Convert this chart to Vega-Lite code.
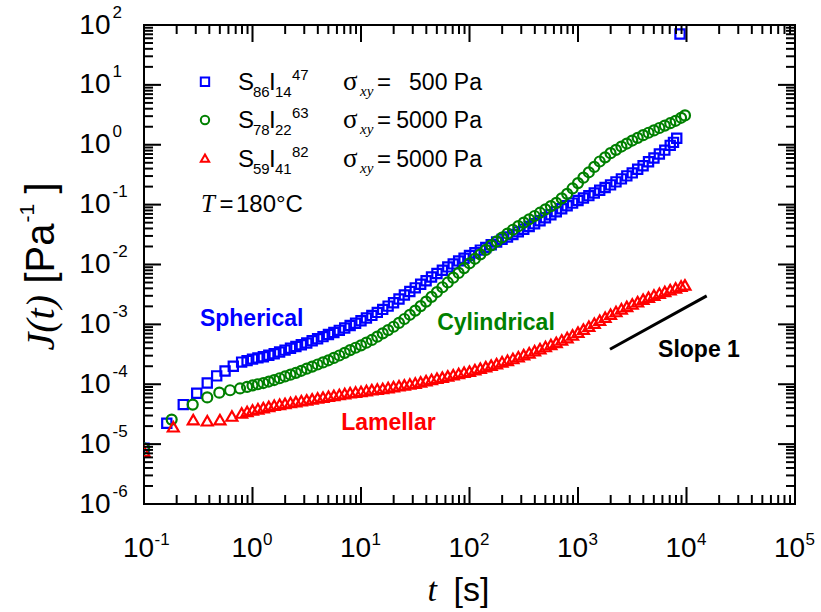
{
  "$schema": "https://vega.github.io/schema/vega-lite/v6.json",
  "width": 651,
  "height": 479,
  "autosize": {"type": "none"},
  "padding": {"left": 144, "top": 25, "right": 26, "bottom": 108},
  "background": "white",
  "config": {
    "view": {"stroke": "black", "strokeWidth": 2},
    "axis": {"domain": false, "grid": false, "ticks": false, "labelColor": "black", "titleColor": "black", "labelOverlap": false, "labelFlush": false, "labelBound": false, "labelFont": "Liberation Sans", "titleFont": "Liberation Sans", "titleFontWeight": "normal"}
  },
  "resolve": {"axis": {"x": "independent", "y": "independent"}},
  "datasets": {
    "curves": [
      {"s":"S86I14","t":0.1,"J":8.51e-6},{"s":"S86I14","t":0.1622,"J":2.239e-5},{"s":"S86I14","t":0.2301,"J":4.571e-5},{"s":"S86I14","t":0.3062,"J":7.079e-5},{"s":"S86I14","t":0.3828,"J":1.047e-4},{"s":"S86I14","t":0.4677,"J":1.38e-4},{"s":"S86I14","t":0.5585,"J":1.66e-4},{"s":"S86I14","t":0.6653,"J":1.995e-4},{"s":"S86I14","t":0.7943,"J":2.344e-4},{"s":"S86I14","t":0.8913,"J":2.48e-4},
      {"s":"S86I14","t":1,"J":2.63e-4},{"s":"S86I14","t":1.122,"J":2.754e-4},{"s":"S86I14","t":1.259,"J":2.884e-4},{"s":"S86I14","t":1.413,"J":3.05e-4},{"s":"S86I14","t":1.585,"J":3.236e-4},{"s":"S86I14","t":1.778,"J":3.467e-4},{"s":"S86I14","t":1.995,"J":3.715e-4},{"s":"S86I14","t":2.239,"J":3.981e-4},{"s":"S86I14","t":2.512,"J":4.266e-4},{"s":"S86I14","t":2.818,"J":4.571e-4},
      {"s":"S86I14","t":3.162,"J":4.898e-4},{"s":"S86I14","t":3.548,"J":5.31e-4},{"s":"S86I14","t":3.981,"J":5.754e-4},{"s":"S86I14","t":4.467,"J":6.24e-4},{"s":"S86I14","t":5.012,"J":6.761e-4},{"s":"S86I14","t":5.623,"J":7.33e-4},{"s":"S86I14","t":6.31,"J":7.943e-4},{"s":"S86I14","t":7.079,"J":8.71e-4},{"s":"S86I14","t":7.943,"J":9.55e-4},{"s":"S86I14","t":8.913,"J":1.047e-3},
      {"s":"S86I14","t":10,"J":1.148e-3},{"s":"S86I14","t":11.22,"J":1.274e-3},{"s":"S86I14","t":12.59,"J":1.413e-3},{"s":"S86I14","t":14.13,"J":1.585e-3},{"s":"S86I14","t":15.85,"J":1.778e-3},{"s":"S86I14","t":17.78,"J":2.018e-3},{"s":"S86I14","t":19.95,"J":2.291e-3},{"s":"S86I14","t":22.39,"J":2.66e-3},{"s":"S86I14","t":25.12,"J":3.09e-3},{"s":"S86I14","t":28.18,"J":3.548e-3},
      {"s":"S86I14","t":31.62,"J":4.074e-3},{"s":"S86I14","t":35.48,"J":4.677e-3},{"s":"S86I14","t":39.81,"J":5.37e-3},{"s":"S86I14","t":44.67,"J":6.166e-3},{"s":"S86I14","t":50.12,"J":7.079e-3},{"s":"S86I14","t":56.23,"J":8.04e-3},{"s":"S86I14","t":63.1,"J":9.12e-3},{"s":"S86I14","t":70.79,"J":1.023e-2},{"s":"S86I14","t":79.43,"J":1.148e-2},{"s":"S86I14","t":89.13,"J":1.274e-2},
      {"s":"S86I14","t":100,"J":1.413e-2},{"s":"S86I14","t":112.2,"J":1.567e-2},{"s":"S86I14","t":125.9,"J":1.738e-2},{"s":"S86I14","t":141.3,"J":1.928e-2},{"s":"S86I14","t":158.5,"J":2.138e-2},{"s":"S86I14","t":177.8,"J":2.371e-2},{"s":"S86I14","t":199.5,"J":2.63e-2},{"s":"S86I14","t":223.9,"J":2.884e-2},{"s":"S86I14","t":251.2,"J":3.162e-2},{"s":"S86I14","t":281.8,"J":3.51e-2},
      {"s":"S86I14","t":316.2,"J":3.89e-2},{"s":"S86I14","t":354.8,"J":4.32e-2},{"s":"S86I14","t":398.1,"J":4.786e-2},{"s":"S86I14","t":446.7,"J":5.37e-2},{"s":"S86I14","t":501.2,"J":6.026e-2},{"s":"S86I14","t":562.3,"J":6.761e-2},{"s":"S86I14","t":631,"J":7.586e-2},{"s":"S86I14","t":707.9,"J":8.511e-2},{"s":"S86I14","t":794.3,"J":9.55e-2},{"s":"S86I14","t":891.3,"J":0.1059},
      {"s":"S86I14","t":1000,"J":0.1175},{"s":"S86I14","t":1122,"J":0.1288},{"s":"S86I14","t":1259,"J":0.1413},{"s":"S86I14","t":1413,"J":0.1567},{"s":"S86I14","t":1585,"J":0.1738},{"s":"S86I14","t":1778,"J":0.1928},{"s":"S86I14","t":1995,"J":0.2138},{"s":"S86I14","t":2239,"J":0.2399},{"s":"S86I14","t":2512,"J":0.2692},{"s":"S86I14","t":2818,"J":0.302},
      {"s":"S86I14","t":3162,"J":0.3388},{"s":"S86I14","t":3548,"J":0.389},{"s":"S86I14","t":3981,"J":0.4467},{"s":"S86I14","t":4467,"J":0.519},{"s":"S86I14","t":5012,"J":0.6026},{"s":"S86I14","t":5623,"J":0.7},{"s":"S86I14","t":6310,"J":0.8128},{"s":"S86I14","t":7079,"J":0.9772},{"s":"S86I14","t":7586,"J":1.096},{"s":"S86I14","t":8128,"J":1.288},{"s":"S86I14","t":8710,"J":70.79},

      {"s":"S78I22","t":0.1,"J":8.51e-6},{"s":"S78I22","t":0.1799,"J":2.57e-5},{"s":"S78I22","t":0.2812,"J":4.571e-5},{"s":"S78I22","t":0.3828,"J":6.026e-5},{"s":"S78I22","t":0.4943,"J":7.244e-5},{"s":"S78I22","t":0.6209,"J":7.943e-5},{"s":"S78I22","t":0.7674,"J":8.511e-5},{"s":"S78I22","t":0.8913,"J":9.02e-5},
      {"s":"S78I22","t":1,"J":9.55e-5},{"s":"S78I22","t":1.122,"J":1.0e-4},{"s":"S78I22","t":1.259,"J":1.047e-4},{"s":"S78I22","t":1.413,"J":1.109e-4},{"s":"S78I22","t":1.585,"J":1.175e-4},{"s":"S78I22","t":1.778,"J":1.259e-4},{"s":"S78I22","t":1.995,"J":1.349e-4},{"s":"S78I22","t":2.239,"J":1.445e-4},{"s":"S78I22","t":2.512,"J":1.549e-4},{"s":"S78I22","t":2.818,"J":1.679e-4},
      {"s":"S78I22","t":3.162,"J":1.82e-4},{"s":"S78I22","t":3.548,"J":1.972e-4},{"s":"S78I22","t":3.981,"J":2.138e-4},{"s":"S78I22","t":4.467,"J":2.317e-4},{"s":"S78I22","t":5.012,"J":2.512e-4},{"s":"S78I22","t":5.623,"J":2.754e-4},{"s":"S78I22","t":6.31,"J":3.02e-4},{"s":"S78I22","t":7.079,"J":3.35e-4},{"s":"S78I22","t":7.943,"J":3.715e-4},{"s":"S78I22","t":8.913,"J":4.074e-4},
      {"s":"S78I22","t":10,"J":4.467e-4},{"s":"S78I22","t":11.22,"J":4.955e-4},{"s":"S78I22","t":12.59,"J":5.495e-4},{"s":"S78I22","t":14.13,"J":6.237e-4},{"s":"S78I22","t":15.85,"J":7.079e-4},{"s":"S78I22","t":17.78,"J":8.035e-4},{"s":"S78I22","t":19.95,"J":9.12e-4},{"s":"S78I22","t":22.39,"J":1.059e-3},{"s":"S78I22","t":25.12,"J":1.23e-3},{"s":"S78I22","t":28.18,"J":1.445e-3},
      {"s":"S78I22","t":31.62,"J":1.698e-3},{"s":"S78I22","t":35.48,"J":2.018e-3},{"s":"S78I22","t":39.81,"J":2.399e-3},{"s":"S78I22","t":44.67,"J":2.884e-3},{"s":"S78I22","t":50.12,"J":3.467e-3},{"s":"S78I22","t":56.23,"J":4.169e-3},{"s":"S78I22","t":63.1,"J":5.012e-3},{"s":"S78I22","t":70.79,"J":6.026e-3},{"s":"S78I22","t":79.43,"J":7.244e-3},{"s":"S78I22","t":89.13,"J":8.71e-3},
      {"s":"S78I22","t":100,"J":1.047e-2},{"s":"S78I22","t":112.2,"J":1.245e-2},{"s":"S78I22","t":125.9,"J":1.479e-2},{"s":"S78I22","t":141.3,"J":1.758e-2},{"s":"S78I22","t":158.5,"J":2.089e-2},{"s":"S78I22","t":177.8,"J":2.427e-2},{"s":"S78I22","t":199.5,"J":2.818e-2},{"s":"S78I22","t":223.9,"J":3.273e-2},{"s":"S78I22","t":251.2,"J":3.802e-2},{"s":"S78I22","t":281.8,"J":4.365e-2},
      {"s":"S78I22","t":316.2,"J":5.012e-2},{"s":"S78I22","t":354.8,"J":5.689e-2},{"s":"S78I22","t":398.1,"J":6.457e-2},{"s":"S78I22","t":446.7,"J":7.328e-2},{"s":"S78I22","t":501.2,"J":8.318e-2},{"s":"S78I22","t":562.3,"J":9.441e-2},{"s":"S78I22","t":631,"J":0.1072},{"s":"S78I22","t":707.9,"J":0.1274},{"s":"S78I22","t":794.3,"J":0.1514},{"s":"S78I22","t":891.3,"J":0.1862},
      {"s":"S78I22","t":1000,"J":0.2291},{"s":"S78I22","t":1122,"J":0.2818},{"s":"S78I22","t":1259,"J":0.3467},{"s":"S78I22","t":1413,"J":0.4266},{"s":"S78I22","t":1585,"J":0.5248},{"s":"S78I22","t":1778,"J":0.6166},{"s":"S78I22","t":1995,"J":0.7244},{"s":"S78I22","t":2239,"J":0.8222},{"s":"S78I22","t":2512,"J":0.9333},{"s":"S78I22","t":2818,"J":1.047},
      {"s":"S78I22","t":3162,"J":1.175},{"s":"S78I22","t":3548,"J":1.303},{"s":"S78I22","t":3981,"J":1.445},{"s":"S78I22","t":4467,"J":1.585},{"s":"S78I22","t":5012,"J":1.738},{"s":"S78I22","t":5623,"J":1.905},{"s":"S78I22","t":6310,"J":2.089},{"s":"S78I22","t":7079,"J":2.291},{"s":"S78I22","t":7943,"J":2.512},{"s":"S78I22","t":8913,"J":2.818},{"s":"S78I22","t":9683,"J":3.09},

      {"s":"S59I41","t":0.1,"J":7.586e-6},{"s":"S59I41","t":0.1862,"J":1.95e-5},{"s":"S59I41","t":0.2844,"J":2.57e-5},{"s":"S59I41","t":0.3828,"J":2.455e-5},{"s":"S59I41","t":0.5012,"J":2.57e-5},{"s":"S59I41","t":0.6457,"J":2.951e-5},{"s":"S59I41","t":0.7943,"J":3.311e-5},{"s":"S59I41","t":0.8913,"J":3.51e-5},
      {"s":"S59I41","t":1,"J":3.715e-5},{"s":"S59I41","t":1.122,"J":3.89e-5},{"s":"S59I41","t":1.259,"J":4.074e-5},{"s":"S59I41","t":1.413,"J":4.266e-5},{"s":"S59I41","t":1.585,"J":4.467e-5},{"s":"S59I41","t":1.778,"J":4.624e-5},{"s":"S59I41","t":1.995,"J":4.786e-5},{"s":"S59I41","t":2.239,"J":4.955e-5},{"s":"S59I41","t":2.512,"J":5.129e-5},{"s":"S59I41","t":2.818,"J":5.309e-5},
      {"s":"S59I41","t":3.162,"J":5.495e-5},{"s":"S59I41","t":3.548,"J":5.689e-5},{"s":"S59I41","t":3.981,"J":5.888e-5},{"s":"S59I41","t":4.467,"J":6.095e-5},{"s":"S59I41","t":5.012,"J":6.31e-5},{"s":"S59I41","t":5.623,"J":6.531e-5},{"s":"S59I41","t":6.31,"J":6.761e-5},{"s":"S59I41","t":7.079,"J":6.998e-5},{"s":"S59I41","t":7.943,"J":7.244e-5},{"s":"S59I41","t":8.913,"J":7.413e-5},
      {"s":"S59I41","t":10,"J":7.586e-5},{"s":"S59I41","t":11.22,"J":7.852e-5},{"s":"S59I41","t":12.59,"J":8.128e-5},{"s":"S59I41","t":14.13,"J":8.318e-5},{"s":"S59I41","t":15.85,"J":8.511e-5},{"s":"S59I41","t":17.78,"J":8.81e-5},{"s":"S59I41","t":19.95,"J":9.12e-5},{"s":"S59I41","t":22.39,"J":9.441e-5},{"s":"S59I41","t":25.12,"J":9.772e-5},{"s":"S59I41","t":28.18,"J":1.012e-4},
      {"s":"S59I41","t":31.62,"J":1.047e-4},{"s":"S59I41","t":35.48,"J":1.096e-4},{"s":"S59I41","t":39.81,"J":1.148e-4},{"s":"S59I41","t":44.67,"J":1.202e-4},{"s":"S59I41","t":50.12,"J":1.259e-4},{"s":"S59I41","t":56.23,"J":1.318e-4},{"s":"S59I41","t":63.1,"J":1.38e-4},{"s":"S59I41","t":70.79,"J":1.445e-4},{"s":"S59I41","t":79.43,"J":1.514e-4},{"s":"S59I41","t":89.13,"J":1.585e-4},
      {"s":"S59I41","t":100,"J":1.66e-4},{"s":"S59I41","t":112.2,"J":1.758e-4},{"s":"S59I41","t":125.9,"J":1.862e-4},{"s":"S59I41","t":141.3,"J":1.972e-4},{"s":"S59I41","t":158.5,"J":2.089e-4},{"s":"S59I41","t":177.8,"J":2.213e-4},{"s":"S59I41","t":199.5,"J":2.371e-4},{"s":"S59I41","t":223.9,"J":2.512e-4},{"s":"S59I41","t":251.2,"J":2.692e-4},{"s":"S59I41","t":281.8,"J":2.884e-4},
      {"s":"S59I41","t":316.2,"J":3.126e-4},{"s":"S59I41","t":354.8,"J":3.35e-4},{"s":"S59I41","t":398.1,"J":3.631e-4},{"s":"S59I41","t":446.7,"J":3.936e-4},{"s":"S59I41","t":501.2,"J":4.266e-4},{"s":"S59I41","t":562.3,"J":4.624e-4},{"s":"S59I41","t":631,"J":5.012e-4},{"s":"S59I41","t":707.9,"J":5.495e-4},{"s":"S59I41","t":794.3,"J":6.026e-4},{"s":"S59I41","t":891.3,"J":6.683e-4},
      {"s":"S59I41","t":1000,"J":7.413e-4},{"s":"S59I41","t":1122,"J":8.318e-4},{"s":"S59I41","t":1259,"J":9.333e-4},{"s":"S59I41","t":1413,"J":1.047e-3},{"s":"S59I41","t":1585,"J":1.175e-3},{"s":"S59I41","t":1778,"J":1.318e-3},{"s":"S59I41","t":1995,"J":1.479e-3},{"s":"S59I41","t":2239,"J":1.641e-3},{"s":"S59I41","t":2512,"J":1.82e-3},{"s":"S59I41","t":2818,"J":1.995e-3},
      {"s":"S59I41","t":3162,"J":2.188e-3},{"s":"S59I41","t":3548,"J":2.399e-3},{"s":"S59I41","t":3981,"J":2.63e-3},{"s":"S59I41","t":4467,"J":2.851e-3},{"s":"S59I41","t":5012,"J":3.09e-3},{"s":"S59I41","t":5623,"J":3.311e-3},{"s":"S59I41","t":6310,"J":3.548e-3},{"s":"S59I41","t":7079,"J":3.802e-3},{"s":"S59I41","t":7943,"J":4.074e-3},{"s":"S59I41","t":8913,"J":4.365e-3},{"s":"S59I41","t":9683,"J":4.571e-3}
    ],
    "slope": [{"t":1972,"J":3.85e-4},{"t":15350,"J":2.99e-3}],
    "legsym": [{"s":"S86I14","t":0.3648,"J":11.3},{"s":"S78I22","t":0.3648,"J":2.59},{"s":"S59I41","t":0.3648,"J":0.596}],
    "notes": [
      {"label":"Spherical","series":"S86I14","t":0.983,"J":9.44e-4},
      {"label":"Cylindrical","series":"S78I22","t":175.4,"J":8.09e-4},
      {"label":"Lamellar","series":"S59I41","t":17.9,"J":1.73e-5},
      {"label":"Slope 1","series":"slope","t":13030,"J":2.86e-4}
    ],
    "leg": [
      {"text":"S","role":"main","t":0.7345,"J":8.22},{"text":"86","role":"sub","t":1.011,"J":8.22},{"text":"I","role":"main","t":1.419,"J":8.22},{"text":"14","role":"sub","t":1.611,"J":8.22},{"text":"47","role":"sup","t":2.312,"J":8.22},{"text":"σ","role":"greek","t":6.823,"J":8.22},{"text":"xy","role":"subit","t":9.79,"J":8.22},{"text":"=","role":"main","t":14.04,"J":8.22},{"text":"500 Pa","role":"value","t":130.3,"J":8.22},
      {"text":"S","role":"main","t":0.7345,"J":1.871},{"text":"78","role":"sub","t":1.011,"J":1.871},{"text":"I","role":"main","t":1.419,"J":1.871},{"text":"22","role":"sub","t":1.611,"J":1.871},{"text":"63","role":"sup","t":2.312,"J":1.871},{"text":"σ","role":"greek","t":6.823,"J":1.871},{"text":"xy","role":"subit","t":9.79,"J":1.871},{"text":"=","role":"main","t":14.04,"J":1.871},{"text":"5000 Pa","role":"value","t":130.3,"J":1.871},
      {"text":"S","role":"main","t":0.7345,"J":0.4256},{"text":"59","role":"sub","t":1.011,"J":0.4256},{"text":"I","role":"main","t":1.419,"J":0.4256},{"text":"41","role":"sub","t":1.611,"J":0.4256},{"text":"82","role":"sup","t":2.312,"J":0.4256},{"text":"σ","role":"greek","t":6.823,"J":0.4256},{"text":"xy","role":"subit","t":9.79,"J":0.4256},{"text":"=","role":"main","t":14.04,"J":0.4256},{"text":"5000 Pa","role":"value","t":130.3,"J":0.4256},
      {"text":"T","role":"italic","t":0.335,"J":0.0755},{"text":"=","role":"main","t":0.4963,"J":0.0755},{"text":"180°C","role":"main","t":0.7037,"J":0.0755}
    ],
    "tkB": [{"t":0.1,"J":1e-6},{"t":1,"J":1e-6},{"t":10,"J":1e-6},{"t":100,"J":1e-6},{"t":1000,"J":1e-6},{"t":10000,"J":1e-6},{"t":100000,"J":1e-6}],
    "tkT": [{"t":0.1,"J":100},{"t":1,"J":100},{"t":10,"J":100},{"t":100,"J":100},{"t":1000,"J":100},{"t":10000,"J":100},{"t":100000,"J":100}],
    "tkBm": [{"t":0.2,"J":1e-6},{"t":0.3,"J":1e-6},{"t":0.4,"J":1e-6},{"t":0.5,"J":1e-6},{"t":0.6,"J":1e-6},{"t":0.7,"J":1e-6},{"t":0.8,"J":1e-6},{"t":0.9,"J":1e-6},{"t":2,"J":1e-6},{"t":3,"J":1e-6},{"t":4,"J":1e-6},{"t":5,"J":1e-6},{"t":6,"J":1e-6},{"t":7,"J":1e-6},{"t":8,"J":1e-6},{"t":9,"J":1e-6},{"t":20,"J":1e-6},{"t":30,"J":1e-6},{"t":40,"J":1e-6},{"t":50,"J":1e-6},{"t":60,"J":1e-6},{"t":70,"J":1e-6},{"t":80,"J":1e-6},{"t":90,"J":1e-6},{"t":200,"J":1e-6},{"t":300,"J":1e-6},{"t":400,"J":1e-6},{"t":500,"J":1e-6},{"t":600,"J":1e-6},{"t":700,"J":1e-6},{"t":800,"J":1e-6},{"t":900,"J":1e-6},{"t":2000,"J":1e-6},{"t":3000,"J":1e-6},{"t":4000,"J":1e-6},{"t":5000,"J":1e-6},{"t":6000,"J":1e-6},{"t":7000,"J":1e-6},{"t":8000,"J":1e-6},{"t":9000,"J":1e-6},{"t":20000,"J":1e-6},{"t":30000,"J":1e-6},{"t":40000,"J":1e-6},{"t":50000,"J":1e-6},{"t":60000,"J":1e-6},{"t":70000,"J":1e-6},{"t":80000,"J":1e-6},{"t":90000,"J":1e-6}],
    "tkTm": [{"t":0.2,"J":100},{"t":0.3,"J":100},{"t":0.4,"J":100},{"t":0.5,"J":100},{"t":0.6,"J":100},{"t":0.7,"J":100},{"t":0.8,"J":100},{"t":0.9,"J":100},{"t":2,"J":100},{"t":3,"J":100},{"t":4,"J":100},{"t":5,"J":100},{"t":6,"J":100},{"t":7,"J":100},{"t":8,"J":100},{"t":9,"J":100},{"t":20,"J":100},{"t":30,"J":100},{"t":40,"J":100},{"t":50,"J":100},{"t":60,"J":100},{"t":70,"J":100},{"t":80,"J":100},{"t":90,"J":100},{"t":200,"J":100},{"t":300,"J":100},{"t":400,"J":100},{"t":500,"J":100},{"t":600,"J":100},{"t":700,"J":100},{"t":800,"J":100},{"t":900,"J":100},{"t":2000,"J":100},{"t":3000,"J":100},{"t":4000,"J":100},{"t":5000,"J":100},{"t":6000,"J":100},{"t":7000,"J":100},{"t":8000,"J":100},{"t":9000,"J":100},{"t":20000,"J":100},{"t":30000,"J":100},{"t":40000,"J":100},{"t":50000,"J":100},{"t":60000,"J":100},{"t":70000,"J":100},{"t":80000,"J":100},{"t":90000,"J":100}],
    "tkL": [{"t":0.1,"J":1e-6},{"t":0.1,"J":1e-5},{"t":0.1,"J":1e-4},{"t":0.1,"J":0.001},{"t":0.1,"J":0.01},{"t":0.1,"J":0.1},{"t":0.1,"J":1},{"t":0.1,"J":10},{"t":0.1,"J":100}],
    "tkR": [{"t":100000,"J":1e-6},{"t":100000,"J":1e-5},{"t":100000,"J":1e-4},{"t":100000,"J":0.001},{"t":100000,"J":0.01},{"t":100000,"J":0.1},{"t":100000,"J":1},{"t":100000,"J":10},{"t":100000,"J":100}],
    "tkLm": [{"t":0.1,"J":2e-6},{"t":0.1,"J":3e-6},{"t":0.1,"J":4e-6},{"t":0.1,"J":5e-6},{"t":0.1,"J":6e-6},{"t":0.1,"J":7e-6},{"t":0.1,"J":8e-6},{"t":0.1,"J":9e-6},{"t":0.1,"J":2e-5},{"t":0.1,"J":3e-5},{"t":0.1,"J":4e-5},{"t":0.1,"J":5e-5},{"t":0.1,"J":6e-5},{"t":0.1,"J":7e-5},{"t":0.1,"J":8e-5},{"t":0.1,"J":9e-5},{"t":0.1,"J":2e-4},{"t":0.1,"J":3e-4},{"t":0.1,"J":4e-4},{"t":0.1,"J":5e-4},{"t":0.1,"J":6e-4},{"t":0.1,"J":7e-4},{"t":0.1,"J":8e-4},{"t":0.1,"J":9e-4},{"t":0.1,"J":0.002},{"t":0.1,"J":0.003},{"t":0.1,"J":0.004},{"t":0.1,"J":0.005},{"t":0.1,"J":0.006},{"t":0.1,"J":0.007},{"t":0.1,"J":0.008},{"t":0.1,"J":0.009},{"t":0.1,"J":0.02},{"t":0.1,"J":0.03},{"t":0.1,"J":0.04},{"t":0.1,"J":0.05},{"t":0.1,"J":0.06},{"t":0.1,"J":0.07},{"t":0.1,"J":0.08},{"t":0.1,"J":0.09},{"t":0.1,"J":0.2},{"t":0.1,"J":0.3},{"t":0.1,"J":0.4},{"t":0.1,"J":0.5},{"t":0.1,"J":0.6},{"t":0.1,"J":0.7},{"t":0.1,"J":0.8},{"t":0.1,"J":0.9},{"t":0.1,"J":2},{"t":0.1,"J":3},{"t":0.1,"J":4},{"t":0.1,"J":5},{"t":0.1,"J":6},{"t":0.1,"J":7},{"t":0.1,"J":8},{"t":0.1,"J":9},{"t":0.1,"J":20},{"t":0.1,"J":30},{"t":0.1,"J":40},{"t":0.1,"J":50},{"t":0.1,"J":60},{"t":0.1,"J":70},{"t":0.1,"J":80},{"t":0.1,"J":90}],
    "tkRm": [{"t":100000,"J":2e-6},{"t":100000,"J":3e-6},{"t":100000,"J":4e-6},{"t":100000,"J":5e-6},{"t":100000,"J":6e-6},{"t":100000,"J":7e-6},{"t":100000,"J":8e-6},{"t":100000,"J":9e-6},{"t":100000,"J":2e-5},{"t":100000,"J":3e-5},{"t":100000,"J":4e-5},{"t":100000,"J":5e-5},{"t":100000,"J":6e-5},{"t":100000,"J":7e-5},{"t":100000,"J":8e-5},{"t":100000,"J":9e-5},{"t":100000,"J":2e-4},{"t":100000,"J":3e-4},{"t":100000,"J":4e-4},{"t":100000,"J":5e-4},{"t":100000,"J":6e-4},{"t":100000,"J":7e-4},{"t":100000,"J":8e-4},{"t":100000,"J":9e-4},{"t":100000,"J":0.002},{"t":100000,"J":0.003},{"t":100000,"J":0.004},{"t":100000,"J":0.005},{"t":100000,"J":0.006},{"t":100000,"J":0.007},{"t":100000,"J":0.008},{"t":100000,"J":0.009},{"t":100000,"J":0.02},{"t":100000,"J":0.03},{"t":100000,"J":0.04},{"t":100000,"J":0.05},{"t":100000,"J":0.06},{"t":100000,"J":0.07},{"t":100000,"J":0.08},{"t":100000,"J":0.09},{"t":100000,"J":0.2},{"t":100000,"J":0.3},{"t":100000,"J":0.4},{"t":100000,"J":0.5},{"t":100000,"J":0.6},{"t":100000,"J":0.7},{"t":100000,"J":0.8},{"t":100000,"J":0.9},{"t":100000,"J":2},{"t":100000,"J":3},{"t":100000,"J":4},{"t":100000,"J":5},{"t":100000,"J":6},{"t":100000,"J":7},{"t":100000,"J":8},{"t":100000,"J":9},{"t":100000,"J":20},{"t":100000,"J":30},{"t":100000,"J":40},{"t":100000,"J":50},{"t":100000,"J":60},{"t":100000,"J":70},{"t":100000,"J":80},{"t":100000,"J":90}]
  },
  "layer": [
    {
      "data": {"name": "curves"},
      "transform": [{"filter": "datum.s === 'S86I14'"}],
      "mark": {"type": "point", "shape": "square", "filled": false, "color": "#0000ff", "opacity": 1, "size": 85, "strokeWidth": 2.2, "clip": true},
      "encoding": {
        "x": {"field": "t", "type": "quantitative", "scale": {"type": "log", "domain": [0.1, 100000], "nice": false},
          "axis": {"orient": "bottom", "values": [0.1,1,10,100,1000,10000,100000], "ticks": false, "labels": false,
            "title": "t", "titleFont": "Liberation Serif", "titleFontStyle": "italic", "titleFontSize": 34, "titleX": 283, "titleY": 96, "titleAlign": "left", "titleBaseline": "alphabetic", "titleAngle": 0}},
        "y": {"field": "J", "type": "quantitative", "scale": {"type": "log", "domain": [1e-6, 100], "nice": false},
          "axis": {"orient": "left", "values": [1e-6,1e-5,1e-4,0.001,0.01,0.1,1,10,100], "ticks": false, "labels": false,
            "title": "J(t)", "titleFont": "Liberation Serif", "titleFontStyle": "italic", "titleFontSize": 40, "titleX": -91, "titleY": 325, "titleAlign": "left", "titleBaseline": "alphabetic", "titleAngle": 270}}
      }
    },
    {
      "data": {"name": "curves"},
      "transform": [{"filter": "datum.s === 'S78I22'"}],
      "mark": {"type": "point", "shape": "circle", "filled": false, "color": "#008000", "opacity": 1, "size": 100, "strokeWidth": 2.2, "clip": true},
      "encoding": {
        "x": {"field": "t", "type": "quantitative",
          "axis": {"orient": "bottom", "values": [0.1,1,10,100,1000,10000,100000], "ticks": false, "tickSize": 0, "labelExpr": "'10'", "labelFontSize": 28, "labelAlign": "center", "labelBaseline": "alphabetic", "labelOffset": -6, "labelPadding": 52,
            "title": "[s]", "titleFontSize": 34, "titleX": 309, "titleY": 96, "titleAlign": "left", "titleBaseline": "alphabetic", "titleAngle": 0}},
        "y": {"field": "J", "type": "quantitative",
          "axis": {"orient": "left", "values": [1e-6,1e-5,1e-4,0.001,0.01,0.1,1,10,100], "ticks": false, "tickSize": 0, "labelExpr": "'10'", "labelFontSize": 28, "labelAlign": "right", "labelBaseline": "alphabetic", "labelOffset": 8, "labelPadding": 34,
            "title": "[Pa", "titleFontSize": 40, "titleX": -91, "titleY": 258, "titleAlign": "left", "titleBaseline": "alphabetic", "titleAngle": 270}}
      }
    },
    {
      "data": {"name": "curves"},
      "transform": [{"filter": "datum.s === 'S59I41'"}],
      "mark": {"type": "point", "shape": "triangle-up", "filled": false, "color": "#ff0000", "opacity": 1, "size": 120, "strokeWidth": 2.2, "clip": true},
      "encoding": {
        "x": {"field": "t", "type": "quantitative",
          "axis": {"orient": "bottom", "values": [0.1,1,10,100,1000,10000,100000], "ticks": false, "tickSize": 0, "labelExpr": "'' + round(log(datum.value) / LN10)", "labelFontSize": 17, "labelAlign": "left", "labelBaseline": "alphabetic", "labelOffset": 10, "labelPadding": 40, "title": null}},
        "y": {"field": "J", "type": "quantitative",
          "axis": {"orient": "left", "values": [1e-6,1e-5,1e-4,0.001,0.01,0.1,1,10,100], "ticks": false, "tickSize": 0, "labelExpr": "'' + round(log(datum.value) / LN10)", "labelFontSize": 17, "labelAlign": "left", "labelBaseline": "alphabetic", "labelOffset": -8, "labelPadding": 32,
            "title": "-1", "titleFontSize": 21, "titleX": -111, "titleY": 197, "titleAlign": "left", "titleBaseline": "alphabetic", "titleAngle": 270}}
      }
    },
    {
      "data": {"name": "slope"},
      "mark": {"type": "line", "color": "black", "strokeWidth": 3},
      "encoding": {
        "x": {"field": "t", "type": "quantitative", "axis": null},
        "y": {"field": "J", "type": "quantitative",
          "axis": {"orient": "left", "ticks": false, "labels": false,
            "title": "]", "titleFontSize": 40, "titleX": -91, "titleY": 168, "titleAlign": "left", "titleBaseline": "alphabetic", "titleAngle": 270}}
      }
    },
    {
      "data": {"name": "tkB"},
      "mark": {"type": "point", "shape": "M-0.06,0L0.06,0L0.06,-1L-0.06,-1Z", "filled": true, "color": "black", "opacity": 1, "size": 1156},
      "encoding": {"x": {"field": "t", "type": "quantitative", "axis": null}, "y": {"field": "J", "type": "quantitative", "axis": null}}
    },
    {
      "data": {"name": "tkT"},
      "mark": {"type": "point", "shape": "M-0.06,0L0.06,0L0.06,1L-0.06,1Z", "filled": true, "color": "black", "opacity": 1, "size": 1156},
      "encoding": {"x": {"field": "t", "type": "quantitative", "axis": null}, "y": {"field": "J", "type": "quantitative", "axis": null}}
    },
    {
      "data": {"name": "tkBm"},
      "mark": {"type": "point", "shape": "M-0.11,0L0.11,0L0.11,-1L-0.11,-1Z", "filled": true, "color": "black", "opacity": 1, "size": 324},
      "encoding": {"x": {"field": "t", "type": "quantitative", "axis": null}, "y": {"field": "J", "type": "quantitative", "axis": null}}
    },
    {
      "data": {"name": "tkTm"},
      "mark": {"type": "point", "shape": "M-0.11,0L0.11,0L0.11,1L-0.11,1Z", "filled": true, "color": "black", "opacity": 1, "size": 324},
      "encoding": {"x": {"field": "t", "type": "quantitative", "axis": null}, "y": {"field": "J", "type": "quantitative", "axis": null}}
    },
    {
      "data": {"name": "tkL"},
      "mark": {"type": "point", "shape": "M0,-0.06L1,-0.06L1,0.06L0,0.06Z", "filled": true, "color": "black", "opacity": 1, "size": 1156},
      "encoding": {"x": {"field": "t", "type": "quantitative", "axis": null}, "y": {"field": "J", "type": "quantitative", "axis": null}}
    },
    {
      "data": {"name": "tkR"},
      "mark": {"type": "point", "shape": "M0,-0.06L-1,-0.06L-1,0.06L0,0.06Z", "filled": true, "color": "black", "opacity": 1, "size": 1156},
      "encoding": {"x": {"field": "t", "type": "quantitative", "axis": null}, "y": {"field": "J", "type": "quantitative", "axis": null}}
    },
    {
      "data": {"name": "tkLm"},
      "mark": {"type": "point", "shape": "M0,-0.11L1,-0.11L1,0.11L0,0.11Z", "filled": true, "color": "black", "opacity": 1, "size": 324},
      "encoding": {"x": {"field": "t", "type": "quantitative", "axis": null}, "y": {"field": "J", "type": "quantitative", "axis": null}}
    },
    {
      "data": {"name": "tkRm"},
      "mark": {"type": "point", "shape": "M0,-0.11L-1,-0.11L-1,0.11L0,0.11Z", "filled": true, "color": "black", "opacity": 1, "size": 324},
      "encoding": {"x": {"field": "t", "type": "quantitative", "axis": null}, "y": {"field": "J", "type": "quantitative", "axis": null}}
    },
    {
      "data": {"name": "legsym"},
      "mark": {"type": "point", "filled": false, "opacity": 1, "size": 70, "strokeWidth": 2},
      "encoding": {
        "x": {"field": "t", "type": "quantitative", "axis": null},
        "y": {"field": "J", "type": "quantitative", "axis": null},
        "shape": {"field": "s", "type": "nominal", "scale": {"domain": ["S86I14","S78I22","S59I41"], "range": ["square","circle","triangle-up"]}, "legend": null},
        "color": {"field": "s", "type": "nominal", "scale": {"domain": ["S86I14","S78I22","S59I41","slope"], "range": ["#0000ff","#008000","#ff0000","#000000"]}, "legend": null}
      }
    },
    {
      "data": {"name": "notes"},
      "mark": {"type": "text", "font": "Liberation Sans", "fontWeight": "bold", "fontSize": 23, "align": "center", "baseline": "alphabetic"},
      "encoding": {
        "x": {"field": "t", "type": "quantitative", "axis": null},
        "y": {"field": "J", "type": "quantitative", "axis": null},
        "text": {"field": "label"},
        "color": {"field": "series", "type": "nominal", "scale": {"domain": ["S86I14","S78I22","S59I41","slope"], "range": ["#0000ff","#008000","#ff0000","#000000"]}, "legend": null}
      }
    },
    {
      "data": {"name": "leg"},
      "transform": [{"filter": "datum.role === 'main'"}],
      "mark": {"type": "text", "font": "Liberation Sans", "fontSize": 24, "align": "left", "baseline": "alphabetic", "color": "black"},
      "encoding": {"x": {"field": "t", "type": "quantitative", "axis": null}, "y": {"field": "J", "type": "quantitative", "axis": null}, "text": {"field": "text"}}
    },
    {
      "data": {"name": "leg"},
      "transform": [{"filter": "datum.role === 'value'"}],
      "mark": {"type": "text", "font": "Liberation Sans", "fontSize": 23, "align": "right", "baseline": "alphabetic", "color": "black"},
      "encoding": {"x": {"field": "t", "type": "quantitative", "axis": null}, "y": {"field": "J", "type": "quantitative", "axis": null}, "text": {"field": "text"}}
    },
    {
      "data": {"name": "leg"},
      "transform": [{"filter": "datum.role === 'sub'"}],
      "mark": {"type": "text", "font": "Liberation Sans", "fontSize": 15, "align": "left", "baseline": "alphabetic", "dy": 7, "color": "black"},
      "encoding": {"x": {"field": "t", "type": "quantitative", "axis": null}, "y": {"field": "J", "type": "quantitative", "axis": null}, "text": {"field": "text"}}
    },
    {
      "data": {"name": "leg"},
      "transform": [{"filter": "datum.role === 'sup'"}],
      "mark": {"type": "text", "font": "Liberation Sans", "fontSize": 15, "align": "left", "baseline": "alphabetic", "dy": -10, "color": "black"},
      "encoding": {"x": {"field": "t", "type": "quantitative", "axis": null}, "y": {"field": "J", "type": "quantitative", "axis": null}, "text": {"field": "text"}}
    },
    {
      "data": {"name": "leg"},
      "transform": [{"filter": "datum.role === 'greek'"}],
      "mark": {"type": "text", "font": "Liberation Serif", "fontSize": 27, "align": "left", "baseline": "alphabetic", "color": "black"},
      "encoding": {"x": {"field": "t", "type": "quantitative", "axis": null}, "y": {"field": "J", "type": "quantitative", "axis": null}, "text": {"field": "text"}}
    },
    {
      "data": {"name": "leg"},
      "transform": [{"filter": "datum.role === 'subit'"}],
      "mark": {"type": "text", "font": "Liberation Serif", "fontStyle": "italic", "fontSize": 15, "align": "left", "baseline": "alphabetic", "dy": 6, "color": "black"},
      "encoding": {"x": {"field": "t", "type": "quantitative", "axis": null}, "y": {"field": "J", "type": "quantitative", "axis": null}, "text": {"field": "text"}}
    },
    {
      "data": {"name": "leg"},
      "transform": [{"filter": "datum.role === 'italic'"}],
      "mark": {"type": "text", "font": "Liberation Serif", "fontStyle": "italic", "fontSize": 25, "align": "left", "baseline": "alphabetic", "color": "black"},
      "encoding": {"x": {"field": "t", "type": "quantitative", "axis": null}, "y": {"field": "J", "type": "quantitative", "axis": null}, "text": {"field": "text"}}
    }
  ]
}
